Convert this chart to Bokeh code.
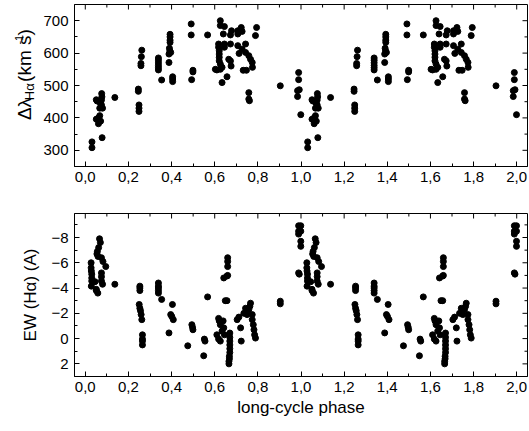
from bokeh.plotting import figure
from bokeh.models import Range1d, FixedTicker, CustomJSTickFormatter
from bokeh.layouts import column, row
from bokeh.core.properties import value
from bokeh.embed import file_html
from bokeh.resources import INLINE
import math

# ---- data (one cycle, phase in [0,1); plotted twice, at phase and phase+1) ----
phase_dl = [0.031, 0.031, 0.051, 0.055, 0.067, 0.075, 0.076, 0.077, 0.075, 0.067,
            0.061, 0.051, 0.061, 0.071, 0.080, 0.070, 0.078, 0.137,
            0.262, 0.260, 0.258, 0.258, 0.246, 0.246, 0.249, 0.249, 0.249,
            0.339, 0.339, 0.339, 0.339, 0.339, 0.339, 0.354,
            0.393, 0.393, 0.393, 0.393, 0.390, 0.392, 0.396, 0.388, 0.388,
            0.405, 0.405, 0.405, 0.491, 0.491, 0.499, 0.499, 0.493, 0.567,
            0.626, 0.626, 0.645, 0.640, 0.618, 0.618, 0.621, 0.621, 0.621, 0.621,
            0.626, 0.603, 0.610, 0.626, 0.634, 0.634, 0.657, 0.665, 0.673, 0.676,
            0.645, 0.645, 0.673, 0.673, 0.678, 0.707, 0.707, 0.723, 0.727, 0.707,
            0.713, 0.727, 0.743, 0.743, 0.732, 0.747, 0.758, 0.766, 0.774, 0.775,
            0.758, 0.758, 0.761, 0.794, 0.789,
            0.904, 0.989, 0.989, 0.984, 0.992, 0.984, 0.999]
dlambda = [326, 308, 456, 452, 430, 440, 475, 465, 455, 407,
           400, 396, 382, 390, 430, 445, 339, 463,
           609, 589, 568, 561, 489, 482, 440, 430, 420,
           585, 578, 570, 562, 555, 548, 517,
           658, 650, 640, 633, 615, 607, 602, 597, 571,
           527, 520, 512, 690, 656, 547, 542, 518, 656,
           700, 685, 682, 659, 628, 618, 607, 597, 587, 576,
           566, 550, 548, 550, 556, 509, 527, 581, 576, 560,
           628, 618, 628, 656, 669, 669, 659, 679, 667, 623,
           599, 612, 628, 602, 547, 547, 592, 581, 571, 556,
           478, 458, 453, 679, 654,
           499, 540, 518, 484, 487, 466, 410]

phase_ew = [0.027, 0.027, 0.028, 0.030, 0.030, 0.030, 0.028, 0.045, 0.051, 0.058,
            0.051, 0.066, 0.070, 0.062, 0.056, 0.054, 0.059, 0.075, 0.082, 0.095,
            0.075, 0.075, 0.075, 0.080, 0.137,
            0.253, 0.253, 0.253, 0.250, 0.253, 0.256, 0.259, 0.262, 0.265, 0.265,
            0.265, 0.265,
            0.339, 0.339, 0.339, 0.339, 0.339, 0.354, 0.388, 0.404, 0.396, 0.401,
            0.408, 0.475, 0.494, 0.497, 0.499, 0.549, 0.552, 0.555, 0.567,
            0.618, 0.621, 0.626, 0.610, 0.618, 0.626, 0.634, 0.639, 0.642, 0.645,
            0.649, 0.657, 0.642, 0.657, 0.660, 0.660, 0.660, 0.660,
            0.670, 0.670, 0.670, 0.670, 0.670, 0.670, 0.668, 0.668, 0.666, 0.666,
            0.704, 0.712, 0.720, 0.723, 0.743, 0.735, 0.750, 0.758, 0.766, 0.763,
            0.774, 0.774, 0.779, 0.782, 0.785, 0.789,
            0.904, 0.904, 0.989, 0.999, 0.989, 0.989, 0.999, 0.999, 0.999, 0.989, 0.992]
ew = [-6.0, -5.6, -5.35, -5.1, -4.8, -4.55, -4.15, -4.5, -3.9, -3.6,
      -3.8, -7.9, -7.6, -7.2, -6.9, -6.7, -6.5, -6.4, -6.1, -5.7,
      -5.2, -4.9, -4.55, -4.3, -4.3,
      -4.15, -4.0, -3.8, -2.7, -2.4, -2.2, -1.9, -1.5, -0.3, 0.04,
      0.2, 0.5,
      -4.4, -4.15, -4.0, -3.8, -3.6, -3.1, -0.45, -2.7, -1.9, -1.75,
      -1.5, 0.57, -1.1, -0.9, -0.7, 1.36, 0.04, 0.2, -3.3,
      -1.6, -1.4, -1.1, -0.3, 0.04, 0.2, -0.6, -1.4, -0.85, -0.3,
      -3.0, -3.0, -4.8, -4.95, -6.4, -6.1, -5.7, -5.0,
      -0.44, -0.1, 0.2, 0.5, 0.8, 1.1, 1.4, 1.6, 1.8, 2.0,
      -1.5, -1.7, -0.85, 0.2, -2.4, -2.0, -1.9, -2.3, -2.8, -2.55,
      -1.9, -1.5, -1.1, -0.7, -0.3, -0.04,
      -2.96, -2.75, -8.93, -8.93, -8.5, -8.27, -8.5, -7.7, -7.3, -5.2, -5.1]

x_ticks = [0.0, 0.2, 0.4, 0.6, 0.8, 1.0, 1.2, 1.4, 1.6, 1.8, 2.0]
x_minor = [0.1, 0.3, 0.5, 0.7, 0.9, 1.1, 1.3, 1.5, 1.7, 1.9]
dl_ticks = [300, 400, 500, 600, 700]
dl_minor = [350, 450, 550, 650]
ew_ticks = [-8, -6, -4, -2, 0, 2]
ew_minor = [-9, -7, -5, -3, -1, 1]

FONT = "Liberation Sans"
TICK_SIZE = "15px"
LABEL_SIZE = "17px"
XMIN, XMAX = -0.05, 2.05
W, BL, BR = 528, 74, 1          # total width, frame left, right border
LW = 40                         # width of the strip carrying the top y-axis title
FRAME_W = W - BL - BR

comma_fmt = CustomJSTickFormatter(code="return tick.toFixed(1).replace('.', ',');")


def style_axis(ax):
    ax.axis_line_color = "black"
    ax.major_tick_in = 5
    ax.major_tick_out = 0
    ax.minor_tick_in = 3
    ax.minor_tick_out = 0
    ax.major_tick_line_color = "black"
    ax.minor_tick_line_color = "black"
    ax.major_label_text_font = FONT
    ax.major_label_text_color = "black"
    ax.major_label_text_font_size = TICK_SIZE
    ax.axis_label_text_font = FONT
    ax.axis_label_text_font_size = LABEL_SIZE
    ax.axis_label_text_font_style = "normal"
    ax.axis_label_text_color = "black"


def make_fig(width, border_left, height, ymin, ymax, yt, ym, border_top, border_bottom):
    p = figure(width=width, height=height, x_range=Range1d(XMIN, XMAX), y_range=Range1d(ymin, ymax),
               output_backend="svg", toolbar_location=None,
               min_border_left=border_left, min_border_right=BR,
               min_border_top=border_top, min_border_bottom=border_bottom)
    p.grid.visible = False
    p.outline_line_color = "black"
    p.background_fill_color = "white"
    p.border_fill_color = "white"
    p.xaxis.ticker = FixedTicker(ticks=x_ticks, minor_ticks=x_minor)
    p.xaxis.formatter = comma_fmt
    p.yaxis.ticker = FixedTicker(ticks=yt, minor_ticks=ym)
    for ax in p.xaxis + p.yaxis:
        style_axis(ax)
    p.xaxis.major_label_standoff = 5
    p.yaxis.major_label_standoff = 6
    # mirrored inward ticks on the top and right edges of the frame
    frame_h = height - border_top - border_bottom
    dy = (ymax - ymin) / frame_h
    dx = (XMAX - XMIN) / FRAME_W
    for ticks, L in ((x_ticks, 5), (x_minor, 3)):
        p.segment(x0=ticks, y0=[ymax] * len(ticks), x1=ticks, y1=[ymax - L * dy] * len(ticks),
                  line_color="black", line_width=1)
    for ticks, L in ((yt, 5), (ym, 3)):
        p.segment(x0=[XMAX] * len(ticks), y0=ticks, x1=[XMAX - L * dx] * len(ticks), y1=ticks,
                  line_color="black", line_width=1)
    return p


# ---- top panel ----
H1, BT1, BB1 = 206, 4, 40
p1 = make_fig(W - LW, BL - LW, H1, 250, 750, dl_ticks, dl_minor, BT1, BB1)
xs1 = phase_dl + [ph + 1 for ph in phase_dl]
ys1 = dlambda + dlambda
p1.scatter(xs1, ys1, size=6, color="black")

# title strip for the top y axis: pixel coordinates, y measured upward
lab = figure(width=LW, height=H1, x_range=Range1d(0, LW), y_range=Range1d(0, H1),
             output_backend="svg", toolbar_location=None,
             min_border=0, min_border_left=0, min_border_right=0,
             min_border_top=0, min_border_bottom=0)
lab.axis.visible = False
lab.grid.visible = False
lab.outline_line_color = None
lab.border_fill_color = "white"
# (text, font px, baseline x, advance in em, gap after in px)
pieces = [("Δλ", 19, 24, 1.28, 1), ("Hα", 13, 29, 1.40, 5),
          ("(km s", 19, 24, 2.45, 1), ("-1", 11, 18, 0.95, 1), (")", 19, 24, 0.333, 0)]
ypos = H1 - 147
for txt, sz, xb, wem, gap in pieces:
    lab.text(x=[xb], y=[ypos], text=[txt], angle=math.pi / 2,
             text_font=value(FONT), text_font_size=value(f"{sz}px"),
             text_color="black", text_align="left", text_baseline="alphabetic")
    ypos += sz * wem + gap

# ---- bottom panel ----
p2 = make_fig(W, BL, 222, 3, -9.9, ew_ticks, ew_minor, 7, 52)
xs2 = phase_ew + [ph + 1 for ph in phase_ew]
ys2 = ew + ew
p2.scatter(xs2, ys2, size=6, color="black")
p2.below[0].axis_label = "long-cycle phase"
p2.below[0].axis_label_standoff = 3
p2.left[0].axis_label = "EW (Hα) (A)"
p2.left[0].axis_label_standoff = 8

layout = column(row(lab, p1, spacing=0), p2, spacing=0)
open("out.html", "w").write(file_html(layout, INLINE))
